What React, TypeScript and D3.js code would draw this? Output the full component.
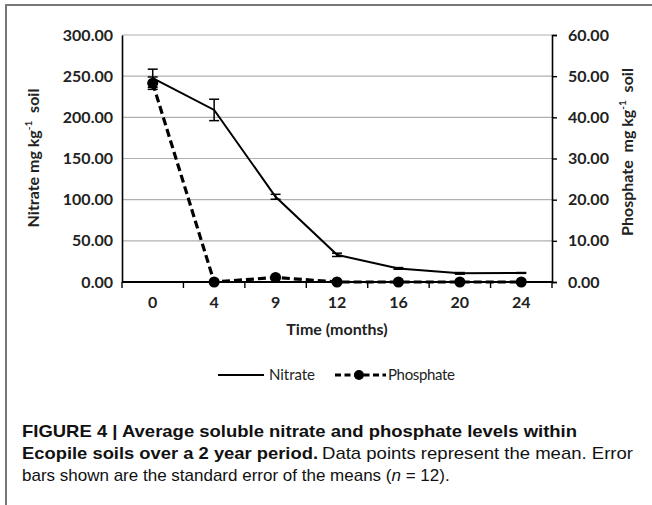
import { useEffect, useRef } from "react";
import * as d3 from "d3";

const months = ["0", "4", "9", "12", "16", "20", "24"];
const nitrate = [247.5, 209, 103.5, 33, 16.5, 10.5, 11];
const nitrateErr = [11, 13, 3, 2, 1, 1, 0.5];
const phosphate = [48.3, 0, 1.1, 0, 0, 0, 0];
const phosphateErr = [1.5, 0, 0, 0, 0, 0, 0];
const leftTicks = [0, 50, 100, 150, 200, 250, 300];
const rightTicks = [0, 10, 20, 30, 40, 50, 60];

const chartFont = "Lato, 'Open Sans', sans-serif";
const capFont = "'Liberation Sans', Arial, sans-serif";

export default function App() {
  const ref = useRef<SVGSVGElement>(null);

  useEffect(() => {
    const width = 652;
    const height = 505;
    const m = { left: 122, right: 552, top: 35, bottom: 282 };

    const svg = d3.select(ref.current);
    svg.selectAll("*").remove();
    svg.attr("width", width).attr("height", height);

    svg.append("rect").attr("width", width).attr("height", height).attr("fill", "#fff");

    // frame
    svg.append("path")
      .attr("d", `M6,${height} L6,5 L${width},5`)
      .attr("fill", "none")
      .attr("stroke", "#777")
      .attr("stroke-width", 2);

    const x = d3.scaleBand().domain(months).range([m.left, m.right]);
    const yL = d3.scaleLinear().domain([0, 300]).range([m.bottom, m.top]);
    const yR = d3.scaleLinear().domain([0, 60]).range([m.bottom, m.top]);
    const cx = (d: string) => (x(d) as number) + x.bandwidth() / 2;

    // gridlines
    svg.append("g")
      .selectAll("line")
      .data(leftTicks.slice(1))
      .enter()
      .append("line")
      .attr("x1", m.left)
      .attr("x2", m.right)
      .attr("y1", d => yL(d))
      .attr("y2", d => yL(d))
      .attr("stroke", "#b0b0b0")
      .attr("stroke-width", 1.2);

    // left axis
    const gl = svg.append("g")
      .attr("transform", `translate(${m.left},0)`)
      .call(d3.axisLeft(yL).tickValues(leftTicks).tickSize(0).tickPadding(9).tickFormat(d3.format(".2f")));
    gl.select(".domain").attr("stroke", "#000").attr("stroke-width", 1.6);

    // right axis
    const gr = svg.append("g")
      .attr("transform", `translate(${m.right},0)`)
      .call(d3.axisRight(yR).tickValues(rightTicks).tickSize(5).tickPadding(11).tickFormat(d3.format(".2f")));
    gr.select(".domain").attr("stroke", "#000").attr("stroke-width", 1.6);
    gr.selectAll(".tick line").attr("stroke", "#000").attr("stroke-width", 1.4);

    [gl, gr].forEach(g => {
      g.selectAll("text")
        .attr("font-family", chartFont)
        .attr("font-size", 16)
        .attr("font-weight", 700)
        .attr("fill", "#222");
    });

    // bottom axis
    const gb = svg.append("g").attr("transform", `translate(0,${m.bottom})`);
    gb.append("line")
      .attr("x1", m.left).attr("x2", m.right)
      .attr("stroke", "#000").attr("stroke-width", 1.8);
    gb.selectAll(".bt")
      .data(d3.range(months.length + 1))
      .enter()
      .append("line")
      .attr("class", "bt")
      .attr("x1", i => m.left + i * x.bandwidth())
      .attr("x2", i => m.left + i * x.bandwidth())
      .attr("y1", 0)
      .attr("y2", 6)
      .attr("stroke", "#000")
      .attr("stroke-width", 1.4);
    gb.selectAll(".bl")
      .data(months)
      .enter()
      .append("text")
      .attr("class", "bl")
      .attr("x", d => cx(d))
      .attr("y", 26)
      .attr("text-anchor", "middle")
      .attr("font-family", chartFont)
      .attr("font-size", 16)
      .attr("font-weight", 700)
      .attr("fill", "#222")
      .text(d => d);

    // axis titles
    svg.append("text")
      .attr("x", (m.left + m.right) / 2)
      .attr("y", 335)
      .attr("text-anchor", "middle")
      .attr("font-family", chartFont)
      .attr("font-size", 16)
      .attr("font-weight", 700)
      .attr("fill", "#222")
      .text("Time (months)");

    const yTitle = (tx: number, ty: number, name: string) => {
      const t = svg.append("text")
        .attr("transform", `translate(${tx},${ty}) rotate(-90)`)
        .attr("text-anchor", "middle")
        .attr("font-family", chartFont)
        .attr("font-size", 16)
        .attr("font-weight", 700)
        .attr("fill", "#222")
        .attr("xml:space", "preserve");
      t.append("tspan").text(`${name} mg kg`);
      t.append("tspan").attr("font-size", 10).attr("dy", -7).text("-1");
      t.append("tspan").attr("dy", 7).text("\u00a0\u00a0soil");
    };
    yTitle(39, 158, "Nitrate");
    yTitle(633, 152, "Phosphate\u00a0");

    // lines
    const lineL = d3.line<number>().x((_, i) => cx(months[i])).y(d => yL(d));
    const lineR = d3.line<number>().x((_, i) => cx(months[i])).y(d => yR(d));

    svg.append("path")
      .datum(phosphate)
      .attr("d", lineR)
      .attr("fill", "none")
      .attr("stroke", "#000")
      .attr("stroke-width", 3.2)
      .attr("stroke-dasharray", "8,4");

    svg.selectAll(".pdot")
      .data(phosphate)
      .enter()
      .append("circle")
      .attr("class", "pdot")
      .attr("cx", (_, i) => cx(months[i]))
      .attr("cy", d => yR(d))
      .attr("r", 5.5)
      .attr("fill", "#000");

    svg.append("path")
      .datum(nitrate)
      .attr("d", lineL)
      .attr("fill", "none")
      .attr("stroke", "#000")
      .attr("stroke-width", 2);

    // error bars
    const errBars = (vals: number[], errs: number[], y: d3.ScaleLinear<number, number>) => {
      vals.forEach((v, i) => {
        if (!errs[i]) return;
        const px = cx(months[i]);
        const g = svg.append("g").attr("stroke", "#000").attr("stroke-width", 1.5);
        g.append("line").attr("x1", px).attr("x2", px).attr("y1", y(v - errs[i])).attr("y2", y(v + errs[i]));
        [v - errs[i], v + errs[i]].forEach(e => {
          g.append("line").attr("x1", px - 5).attr("x2", px + 5).attr("y1", y(e)).attr("y2", y(e));
        });
      });
    };
    errBars(nitrate, nitrateErr, yL);
    errBars(phosphate, phosphateErr, yR);

    // legend
    const ly = 375;
    const lg = svg.append("g").attr("font-family", chartFont).attr("font-size", 15).attr("fill", "#222");
    lg.append("line").attr("x1", 218).attr("x2", 264).attr("y1", ly).attr("y2", ly)
      .attr("stroke", "#000").attr("stroke-width", 1.8);
    lg.append("text").attr("x", 269).attr("y", ly + 5).attr("textLength", 46).text("Nitrate");
    lg.append("line").attr("x1", 335).attr("x2", 386).attr("y1", ly).attr("y2", ly)
      .attr("stroke", "#000").attr("stroke-width", 3).attr("stroke-dasharray", "6,3.5");
    lg.append("circle").attr("cx", 359).attr("cy", ly).attr("r", 5).attr("fill", "#000");
    lg.append("text").attr("x", 388).attr("y", ly + 5).attr("textLength", 67).text("Phosphate");

    // caption
    const cap = svg.append("g").attr("font-family", capFont).attr("font-size", 17).attr("fill", "#111");
    cap.append("text")
      .attr("x", 22).attr("y", 437)
      .attr("font-weight", 700)
      .attr("textLength", 555)
      .attr("lengthAdjust", "spacingAndGlyphs")
      .text("FIGURE 4 | Average soluble nitrate and phosphate levels within");
    cap.append("text")
      .attr("x", 22).attr("y", 459)
      .attr("font-weight", 700)
      .attr("textLength", 296)
      .attr("lengthAdjust", "spacingAndGlyphs")
      .text("Ecopile soils over a 2 year period.");
    cap.append("text")
      .attr("x", 322).attr("y", 459)
      .attr("textLength", 311)
      .attr("lengthAdjust", "spacingAndGlyphs")
      .text("Data points represent the mean. Error");
    const l3 = cap.append("text").attr("x", 22).attr("y", 481);
    l3.append("tspan").text("bars shown are the standard error of the means (");
    l3.append("tspan").attr("font-style", "italic").text("n");
    l3.append("tspan").text(" = 12).");
  }, []);

  return (
    <svg ref={ref} width={652} height={505} style={{ position: "absolute", left: 0, top: 0 }}></svg>
  );
}
